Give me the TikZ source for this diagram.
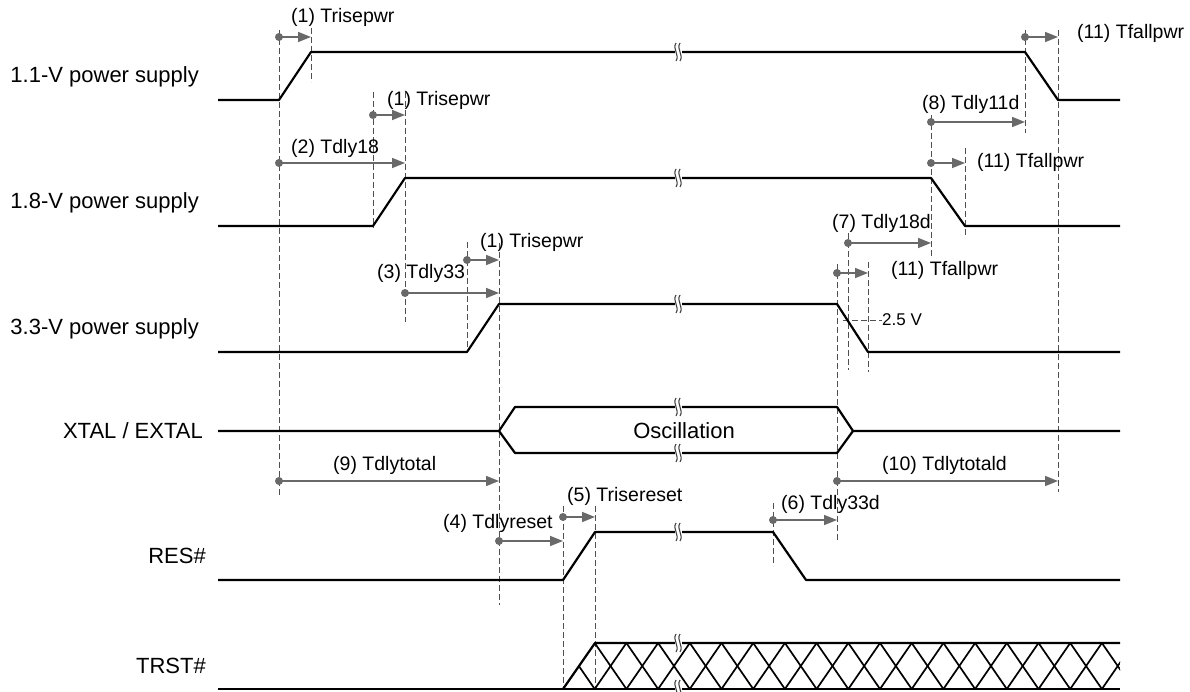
\documentclass[tikz,border=0pt]{standalone}
\usepackage{fontspec}
\setmainfont{Liberation Sans}
\usetikzlibrary{arrows.meta}

\definecolor{guidegray}{RGB}{80,80,80}
\definecolor{arrgray}{RGB}{105,105,105}

% wavy break mark on a signal line
\newcommand{\sigbreak}[2]{%
  \fill[white] (#1-3.5,#2-6) rectangle (#1+3.5,#2+6);
  \draw[brk] (#1-2,#2-9) .. controls (#1-6,#2-3) and (#1+2,#2+3) .. (#1-2,#2+9);
  \draw[brk] (#1+2,#2-9) .. controls (#1-2,#2-3) and (#1+6,#2+3) .. (#1+2,#2+9);}

% timing arrow with a dot at its start
\newcommand{\tarrow}[3]{%
  \draw[tarr] (#1,#3) -- (#2,#3);
  \fill[arrgray] (#1,#3) circle (4pt);}

\begin{document}
\begin{tikzpicture}[x=1pt,y=-1pt,
    sig/.style={line width=2.2pt,line join=round},
    guide/.style={guidegray,line width=1pt,dash pattern=on 6pt off 3pt},
    tarr/.style={arrgray,line width=1.6pt,-{Triangle[length=13pt,width=10pt]}},
    brk/.style={line width=1.1pt,black!75},
    lbl/.style={anchor=west,inner sep=0pt,font=\fontsize{19.5}{22}\selectfont},
    sname/.style={anchor=east,inner sep=0pt,font=\fontsize{22}{26}\selectfont}]
\useasboundingbox (0,0) rectangle (1190,692);

% guide lines
\draw[guide] (279,30) -- (279,495);
\draw[guide] (311,28) -- (311,82);
\draw[guide] (373,92) -- (373,228);
\draw[guide] (405,92) -- (405,322);
\draw[guide] (467,242) -- (467,352);
\draw[guide] (499,243) -- (499,605);
\draw[guide] (563,506) -- (563,689);
\draw[guide] (595,506) -- (595,689);
\draw[guide] (773,503) -- (773,566);
\draw[guide] (837,264) -- (837,540);
\draw[guide] (848,233) -- (848,370);
\draw[guide] (868,262) -- (868,372);
\draw[guide] (931,115) -- (931,257);
\draw[guide] (965,148) -- (965,236);
\draw[guide] (1025,30) -- (1025,133);
\draw[guide] (1058,30) -- (1058,492);
\draw[guide] (843,320) -- (882,320);

% signals
\draw[sig] (218,100) -- (279,100) -- (311,52) -- (1025,52) -- (1058,100) -- (1120,100);
\draw[sig] (218,226) -- (373,226) -- (405,178) -- (931,178) -- (965,226) -- (1120,226);
\draw[sig] (218,352) -- (467,352) -- (499,304) -- (837,304) -- (868,352) -- (1120,352);
\draw[sig] (218,431) -- (499,431) -- (515,407) -- (837,407) -- (853,431) -- (1120,431);
\draw[sig] (499,431) -- (515,453) -- (837,453) -- (853,431);
\draw[sig] (218,580) -- (563,580) -- (595,532) -- (773,532) -- (806,580) -- (1120,580);
\draw[sig] (218,689) -- (1120,689);
\draw[sig] (563,689) -- (595,643) -- (1120,643);
\begin{scope}
  \clip (563,689) -- (595,643) -- (1120,643) -- (1120,689) -- cycle;
  \foreach \k in {0,...,17} {
    \draw[line width=1.7pt] (563+31.7*\k,689) -- ++(31.7,-46);
    \draw[line width=1.7pt] (563+31.7*\k,643) -- ++(31.7,46);
  }
\end{scope}

\sigbreak{678}{52}
\sigbreak{678}{178}
\sigbreak{678}{304}
\sigbreak{678}{407}
\sigbreak{678}{453}
\sigbreak{678}{532}
\sigbreak{678}{643}
\sigbreak{678}{689}

% timing arrows
\tarrow{279}{311}{37}
\tarrow{373}{405}{115}
\tarrow{279}{405}{163}
\tarrow{467}{499}{260}
\tarrow{405}{499}{293}
\tarrow{279}{499}{481}
\tarrow{499}{563}{541}
\tarrow{563}{595}{517}
\tarrow{773}{837}{520}
\tarrow{848}{931}{243}
\tarrow{837}{868}{273}
\tarrow{931}{1025}{122}
\tarrow{931}{965}{163}
\tarrow{1025}{1058}{37}
\tarrow{837}{1058}{481}

% signal names
\node[sname] (n11) at (199,77) {1.1-V power supply};
\node[sname] (n18) at (199,203) {1.8-V power supply};
\node[sname] (n33) at (199,329) {3.3-V power supply};
\node[sname] (nxtal) at (203,431) {XTAL / EXTAL};
\node[sname] (nres) at (206,556) {RES\#};
\node[sname] (ntrst) at (206,666) {TRST\#};
\node[inner sep=0pt,font=\fontsize{22}{26}\selectfont] (osc) at (684,431) {Oscillation};

% timing labels
\node[lbl] (t1a) at (291,17) {(1) Trisepwr};
\node[lbl] (t1b) at (387,100) {(1) Trisepwr};
\node[lbl] (t2) at (291,148) {(2) Tdly18};
\node[lbl] (t1c) at (480,242) {(1) Trisepwr};
\node[lbl] (t3) at (377,273) {(3) Tdly33};
\node[lbl] (t9) at (333,465) {(9) Tdlytotal};
\node[lbl] (t4) at (443,523) {(4) Tdlyreset};
\node[lbl] (t5) at (567,496) {(5) Trisereset};
\node[lbl] (t6) at (781,504) {(6) Tdly33d};
\node[lbl] (t7) at (832,223) {(7) Tdly18d};
\node[lbl] (t11c) at (891,270) {(11) Tfallpwr};
\node[lbl,font=\fontsize{17}{20}\selectfont] (v25) at (882,320) {2.5 V};
\node[lbl] (t8) at (922,104) {(8) Tdly11d};
\node[lbl] (t11b) at (977,162) {(11) Tfallpwr};
\node[lbl] (t11a) at (1077,33) {(11) Tfallpwr};
\node[lbl] (t10) at (882,465) {(10) Tdlytotald};
\end{tikzpicture}
\end{document}
